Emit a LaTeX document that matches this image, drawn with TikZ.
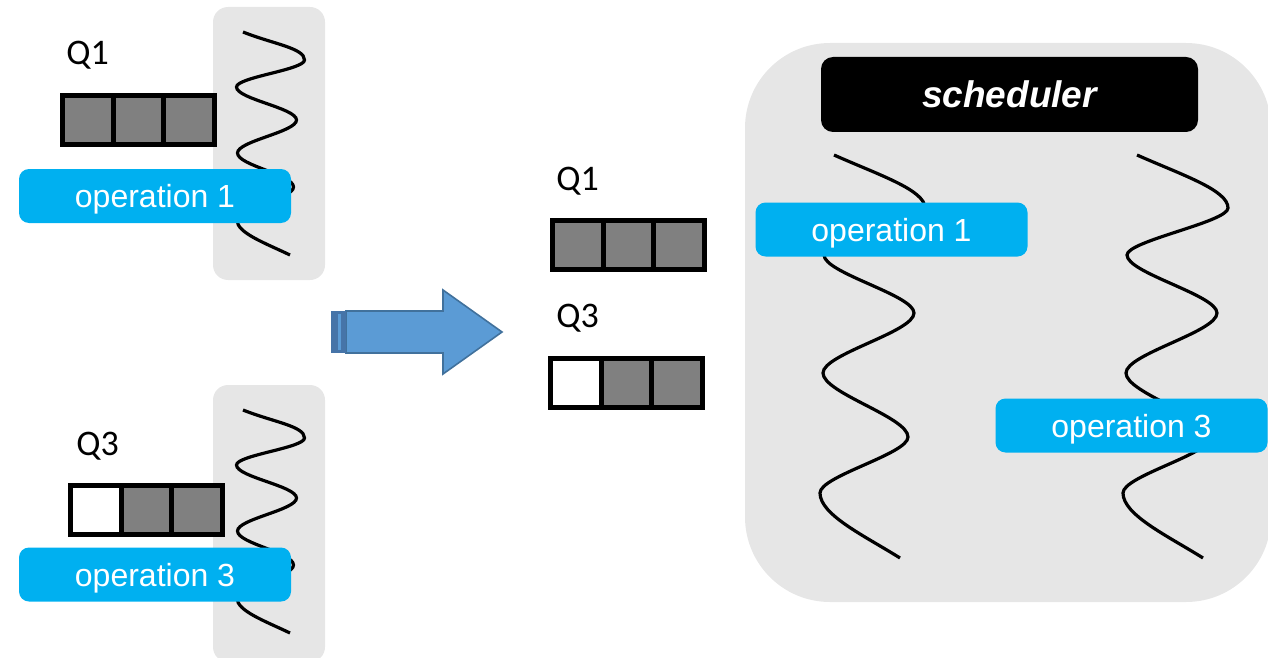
\documentclass[tikz,border=0pt]{standalone}
\usepackage{fontspec}
\setmainfont{Liberation Sans}
\newfontfamily\qfont{Carlito}

\definecolor{panelgray}{HTML}{E6E6E6}
\definecolor{opblue}{HTML}{00B0F0}
\definecolor{cellgray}{HTML}{808080}
\definecolor{arrowfill}{HTML}{5B9BD5}
\definecolor{arrowedge}{HTML}{41719C}
\definecolor{stripe}{HTML}{4674A8}

\tikzset{
  panel/.style={fill=panelgray},
  opbox/.style={fill=opblue, rounded corners=5pt, text=white,
    font=\fontsize{16}{19}\selectfont, minimum width=136pt,
    minimum height=27pt, inner sep=0pt, text depth=0pt},
  schedbox/.style={fill=black, rounded corners=6pt, text=white,
    font=\fontsize{18.5}{22}\selectfont\bfseries\itshape,
    minimum width=188.5pt, minimum height=37.5pt, inner sep=0pt},
  qlabel/.style={font=\qfont\fontsize{18}{21}\selectfont, inner sep=0pt},
  cell/.style={draw=black, line width=2.5pt, line join=miter},
  thread/.style={draw=black, line width=1.6pt},
}

% three queue slots: left edge, top edge, fill of the first slot
\newcommand\qcells[3]{%
  \foreach \k/\c in {0/#3,1/cellgray,2/cellgray}{
    \filldraw[cell, fill=\c] (#1+\k*50.5, #2) rectangle ++(50.5, 49);
  }
}

% small thread beside a single queue (sine-like half waves)
\newcommand\shortthread{%
  \draw[thread] (243,32) .. controls +(30,12) and +(0,-12) .. (304.5,60)
    .. controls +(0,9.8) and +(0,-9.8) .. (236.5,87)
    .. controls +(0,12) and +(0,-12) .. (296.5,120)
    .. controls +(0,12) and +(0,-12) .. (237.5,153)
    .. controls +(0,12.4) and +(0,-12.4) .. (293.5,187)
    .. controls +(0,12) and +(0,-12) .. (237,220)
    .. controls +(0,13) and +(-25,-12) .. (290,255);
}

% long thread inside the scheduler
\newcommand\longthread{%
  \draw[thread] (1137,155) .. controls +(45,20) and +(0,-18) .. (1228,208)
    .. controls +(0,14) and +(0,-14) .. (1127,255)
    .. controls +(0,18) and +(0,-18) .. (1217,313)
    .. controls +(0,19) and +(0,-19) .. (1126,373)
    .. controls +(0,20) and +(0,-20) .. (1211,437)
    .. controls +(0,17) and +(0,-17) .. (1123,493)
    .. controls +(0,22) and +(-35,-22) .. (1203,558);
}

\begin{document}
\begin{tikzpicture}[x=0.5pt, y=-0.5pt]
  \useasboundingbox (0,0) rectangle (1268,658);
  \clip (0,0) rectangle (1268,658);

  % ---- left column: two separate queues with their own thread ----
  \fill[panel, rounded corners=7.5pt] (213,7) rectangle (325,280);
  \shortthread
  \qcells{62.5}{95.5}{cellgray}
  \node[qlabel, anchor=base west] (q1a) at (66,65) {Q1};
  \node[opbox] (op1a) at (155,196) {operation 1};

  \fill[panel, rounded corners=7.5pt] (213,385) rectangle (325,662);
  \begin{scope}[shift={(0,378)}]
    \shortthread
  \end{scope}
  \qcells{70.5}{485.5}{white}
  \node[qlabel, anchor=base west] (q3a) at (76,455) {Q3};
  \node[opbox] (op3a) at (155,574.5) {operation 3};

  % ---- block arrow ----
  \filldraw[fill=arrowfill, draw=arrowedge, line width=0.8pt, line join=miter]
    (346,311) -- (443,311) -- (443,290) -- (502,332) -- (443,374)
    -- (443,353) -- (346,353) -- cycle;
  \fill[stripe] (331,311) rectangle (346,353);
  \fill[arrowfill] (338,314) rectangle (341,350);

  % ---- middle: both queues ----
  \node[qlabel, anchor=base west] (q1b) at (556,190) {Q1};
  \qcells{552.5}{220.5}{cellgray}
  \node[qlabel, anchor=base west] (q3b) at (556,327) {Q3};
  \qcells{550.5}{358.5}{white}

  % ---- right: scheduler with two threads ----
  \fill[panel, rounded corners=42.5pt] (745,43) rectangle (1271,602);
  \node[schedbox] (sched) at (1009.5,94.5) {scheduler};
  \begin{scope}[shift={(-303,0)}]
    \longthread
  \end{scope}
  \longthread
  \node[opbox] (op1b) at (891.5,229.5) {operation 1};
  \node[opbox] (op3b) at (1131.5,425.5) {operation 3};
\end{tikzpicture}
\end{document}
